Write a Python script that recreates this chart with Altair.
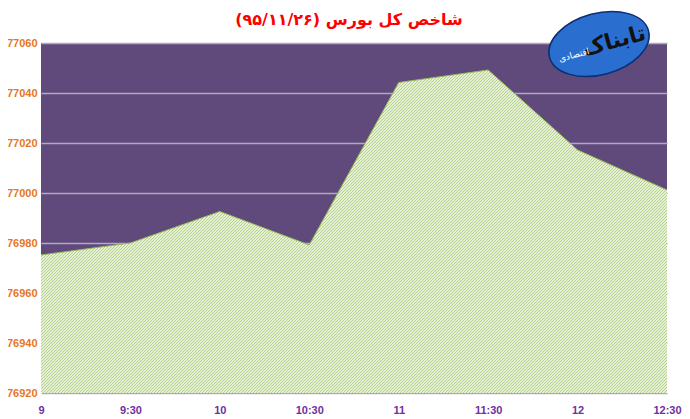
import altair as alt
import pandas as pd

times = ["9", "9:30", "10", "10:30", "11", "11:30", "12", "12:30"]
index_values = [76975.2, 76980.0, 76992.6, 76979.2, 77044.2, 77049.2, 77017.2, 77001.2]
y_ticks = [76920, 76940, 76960, 76980, 77000, 77020, 77040, 77060]
y_base = 76920
title_text = "شاخص کل بورس (۹۵/۱۱/۲۶)"
logo_main = "تابناک"
logo_sub = "اقتصادی"

df = pd.DataFrame({"time": times, "value": index_values, "base": [y_base] * len(times)})

# hatch-like diagonal stripe fill (style only)
plot_w, plot_h = 626, 350
bbox_h = (max(index_values) - y_base) / (y_ticks[-1] - y_base) * plot_h
ratio = bbox_h / plot_w
gx, gy = 1.2, 1.2 * ratio
t_per_px = gx / (gx * gx + gy * gy) / plot_w
period_px = 3.0
n_periods = int(round(1 / (t_per_px * period_px)))
c_dark, c_light = "#b4d18b", "#e6f0d6"
stops = []
for i in range(n_periods):
    a = i / n_periods
    m = (i + 0.5) / n_periods
    b = (i + 1) / n_periods
    stops += [{"offset": a, "color": c_dark}, {"offset": m, "color": c_dark},
              {"offset": m, "color": c_light}, {"offset": b, "color": c_light}]
hatch = {"gradient": "linear", "x1": 0, "y1": 0, "x2": gx, "y2": gy, "stops": stops}

x_enc = alt.X(
    "time:O",
    sort=times,
    scale=alt.Scale(type="point", padding=0),
    axis=alt.Axis(
        title=None,
        labelAngle=0,
        labelColor="#7030a0",
        labelFont="Liberation Sans",
        labelFontWeight="bold",
        labelFontSize=11,
        labelPadding=11,
        domain=False,
        ticks=False,
        grid=False,
    ),
)
y_enc = alt.Y(
    "value:Q",
    scale=alt.Scale(domain=[76920, 77060], zero=False, nice=False),
    axis=alt.Axis(
        title=None,
        values=y_ticks,
        format="d",
        labelColor="#e87722",
        labelFont="Liberation Sans",
        labelFontWeight="bold",
        labelFontSize=11,
        labelPadding=4,
        domain=False,
        ticks=False,
        gridColor="#b3a8c3",
        gridWidth=1.5,
    ),
)

area = alt.Chart(df).mark_area(
    fill=hatch,
    opacity=1,
    line={"color": "#9bbb59", "strokeWidth": 1},
).encode(x=x_enc, y=y_enc, y2="base:Q")

one = pd.DataFrame({"a": [0]})
title = alt.Chart(one).mark_text(
    text=title_text, font="DejaVu Sans", fontSize=16, fontWeight="bold",
    color="#ff0000", baseline="middle", align="center",
).encode(x=alt.value(308), y=alt.value(-23))

ellipse = "M -1 0 A 1 0.6 0 1 1 1 0 A 1 0.6 0 1 1 -1 0 Z"
logo = alt.Chart(one).mark_point(
    shape=ellipse, size=10500, filled=True, fill="#2a6fd0", stroke="#0b2f73",
    strokeWidth=1.5, opacity=1, angle=345,
).encode(x=alt.value(558), y=alt.value(1))
logo_t1 = alt.Chart(one).mark_text(
    text=logo_main, font="DejaVu Sans", fontSize=22, fontWeight="bold",
    color="#111111", angle=345,
).encode(x=alt.value(573), y=alt.value(-2))
logo_t2 = alt.Chart(one).mark_text(
    text=logo_sub, font="DejaVu Sans", fontSize=9, color="#ffffff", angle=345,
).encode(x=alt.value(533), y=alt.value(12))

chart = alt.layer(area, title, logo, logo_t1, logo_t2).properties(
    width=plot_w,
    height=plot_h,
    autosize=alt.AutoSizeParams(type="none"),
    padding={"left": 33, "top": 35, "right": 15, "bottom": 26},
).configure(background="#ffffff").configure_view(fill="#604a7b", strokeWidth=0)

chart.save("out.html", embed_options={"renderer": "svg", "actions": False})
